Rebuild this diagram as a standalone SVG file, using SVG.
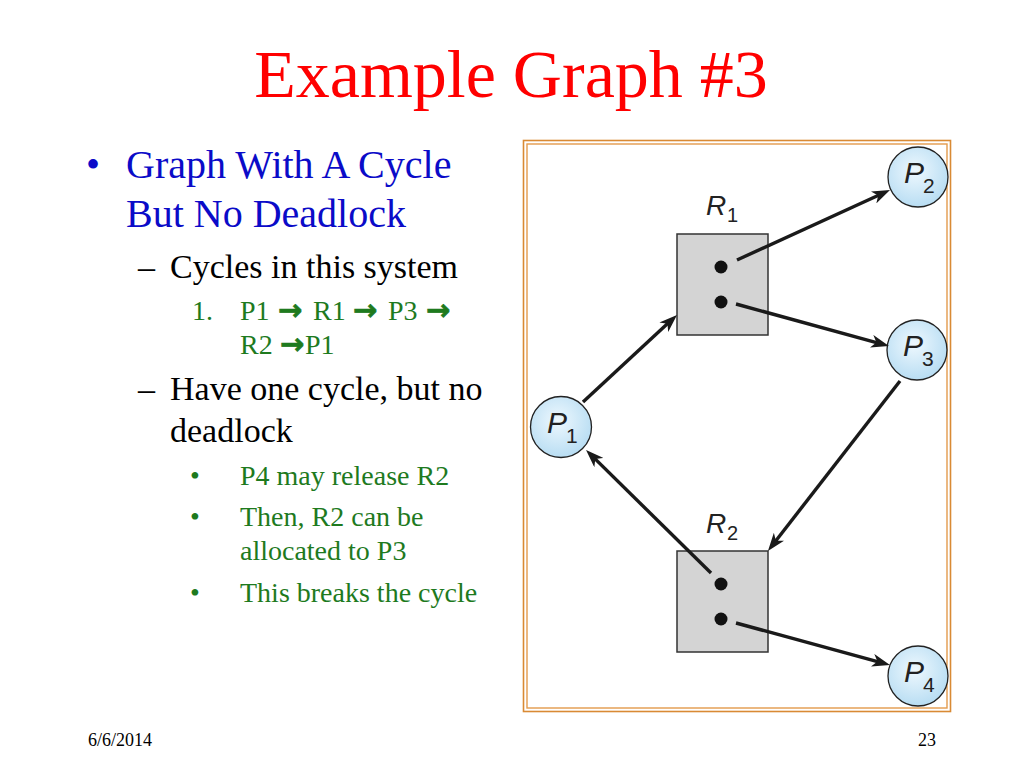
<svg xmlns="http://www.w3.org/2000/svg" width="1024" height="768" viewBox="0 0 1024 768">
<style>
.serif{font-family:"Liberation Serif","Times New Roman",serif}
.l1{font-size:40px;fill:#0b0bc8}
.l2{font-size:34px;fill:#000}
.l3{font-size:28px;fill:#1e7a1e}
.arr{font-family:"DejaVu Sans",sans-serif;font-weight:bold;font-size:29px;stroke:#1e7a1e;stroke-width:0.8}
.edge{stroke:#1a1a1a;stroke-width:3.4;fill:none;marker-end:url(#ah)}
.proc{fill:url(#pg);stroke:#222;stroke-width:1.3}
.res{fill:#d4d4d4;stroke:#333;stroke-width:1.5}
.dot{fill:#111}
.lab{font-family:"Liberation Sans",Arial,sans-serif;font-style:italic;fill:#222}
.big{font-size:28px}
.sub{font-size:20px;font-style:normal}
.pbig{font-size:30px}
.psub{font-size:21px;font-style:normal}
</style>
<defs>
<radialGradient id="pg" cx="0.45" cy="0.4" r="0.65">
<stop offset="0" stop-color="#eef8fe"/>
<stop offset="1" stop-color="#b4dbf2"/>
</radialGradient>
<marker id="ah" markerUnits="userSpaceOnUse" viewBox="0 0 18 13" refX="6" refY="6.5" markerWidth="18" markerHeight="13" orient="auto">
<path d="M0,0 L18,6.5 L0,13 L5,6.5 Z" fill="#1a1a1a"/>
</marker>
</defs>
<rect width="1024" height="768" fill="#fff"/>

<text class="serif" x="511" y="97" font-size="68" fill="#ff0000" text-anchor="middle">Example Graph #3</text>

<g id="text-left" class="serif">
<text class="l1" x="86" y="178">•</text>
<text class="l1" x="126" y="178">Graph With A Cycle</text>
<text class="l1" x="126" y="227">But No Deadlock</text>
<text class="l2" x="138" y="278">–</text>
<text class="l2" x="170" y="278">Cycles in this system</text>
<text class="l3" x="192" y="320">1.</text>
<text class="l3" y="320"><tspan x="240">P1</tspan><tspan class="arr" x="278">→</tspan><tspan x="313">R1</tspan><tspan class="arr" x="353">→</tspan><tspan x="388">P3</tspan><tspan class="arr" x="426">→</tspan></text>
<text class="l3" y="354"><tspan x="240">R2</tspan><tspan class="arr" x="280">→</tspan><tspan x="305">P1</tspan></text>
<text class="l2" x="138" y="400">–</text>
<text class="l2" x="170" y="400">Have one cycle, but no</text>
<text class="l2" x="170" y="442">deadlock</text>
<text class="l3" x="190" y="485">•</text>
<text class="l3" x="240" y="485">P4 may release R2</text>
<text class="l3" x="190" y="526">•</text>
<text class="l3" x="240" y="526">Then, R2 can be</text>
<text class="l3" x="240" y="560">allocated to P3</text>
<text class="l3" x="190" y="602">•</text>
<text class="l3" x="240" y="602">This breaks the cycle</text>
</g>

<g id="frame" fill="none">
<rect x="523.5" y="140.5" width="427" height="571" stroke="#d98a34" stroke-width="1.6"/>
<rect x="527" y="144" width="420" height="564" stroke="#e39a4c" stroke-width="1.4"/>
</g>

<g id="R1">
<rect class="res" x="677" y="234" width="91" height="101"/>
<circle class="dot" cx="721" cy="267" r="6.5"/>
<circle class="dot" cx="721" cy="302" r="6.5"/>
<text class="lab big" x="706" y="215">R<tspan class="sub" x="727" y="222">1</tspan></text>
</g>
<g id="R2">
<rect class="res" x="677" y="551" width="91" height="101"/>
<circle class="dot" cx="721" cy="584" r="6.5"/>
<circle class="dot" cx="721" cy="619" r="6.5"/>
<text class="lab big" x="706" y="533">R<tspan class="sub" x="727" y="540">2</tspan></text>
</g>
<g id="P1">
<circle class="proc" cx="561" cy="427" r="30.5"/>
<text class="lab pbig" x="547" y="433">P<tspan class="psub" x="566" y="443">1</tspan></text>
</g>
<g id="P2">
<circle class="proc" cx="918" cy="177" r="30"/>
<text class="lab pbig" x="904" y="183">P<tspan class="psub" x="923" y="193">2</tspan></text>
</g>
<g id="P3">
<circle class="proc" cx="917" cy="350" r="30"/>
<text class="lab pbig" x="903" y="356">P<tspan class="psub" x="922" y="366">3</tspan></text>
</g>
<g id="P4">
<circle class="proc" cx="918" cy="676" r="30"/>
<text class="lab pbig" x="904" y="682">P<tspan class="psub" x="923" y="692">4</tspan></text>
</g>

<g id="connectors">
<path class="edge" d="M583,402 L668.2,323.1"/>
<path class="edge" d="M737,260 L879.1,195"/>
<path class="edge" d="M736,304 L877.4,342.8"/>
<path class="edge" d="M900,381 L775.3,541.5"/>
<path class="edge" d="M711,573 L594.6,458.4"/>
<path class="edge" d="M736,623 L878.4,661.8"/>
</g>

<text class="serif" x="88" y="746" font-size="18" fill="#000">6/6/2014</text>
<text class="serif" x="936" y="746" font-size="18" fill="#000" text-anchor="end">23</text>
</svg>
